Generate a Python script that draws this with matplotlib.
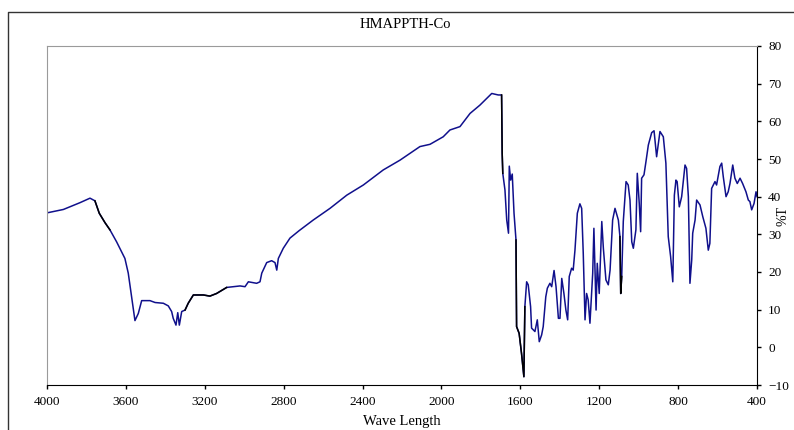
import numpy as np
import matplotlib
matplotlib.use('Agg')
from matplotlib import pyplot as plt
from matplotlib.lines import Line2D

# wave number (cm-1) and transmittance (%T)
wave = [4000, 3917, 3833, 3782, 3757, 3735, 3706, 3681, 3647, 3605,
        3588, 3571, 3554, 3537, 3520, 3478, 3452, 3410, 3385, 3368,
        3360, 3346, 3337, 3329, 3317, 3300, 3284, 3258, 3207, 3174,
        3140, 3089, 3021, 2996, 2979, 2937, 2920, 2911, 2886, 2861,
        2844, 2835, 2827, 2802, 2768, 2721, 2650, 2565, 2480, 2396,
        2295, 2210, 2109, 2058, 1991, 1957, 1906, 1855, 1805, 1745,
        1712, 1695, 1692, 1689, 1678, 1669, 1660, 1656, 1649, 1641,
        1632, 1622, 1619, 1606, 1594, 1582, 1577, 1568, 1560, 1548,
        1543, 1526, 1514, 1504, 1492, 1484, 1471, 1463, 1450, 1441,
        1429, 1419, 1407, 1399, 1390, 1379, 1369, 1360, 1352, 1340,
        1332, 1323, 1311, 1298, 1289, 1281, 1272, 1264, 1256, 1247,
        1233, 1227, 1216, 1210, 1200, 1187, 1179, 1166, 1154, 1145,
        1132, 1120, 1103, 1095, 1091, 1086, 1078, 1064, 1053, 1044,
        1035, 1027, 1014, 1007, 997, 990, 985, 973, 963, 951,
        934, 922, 909, 892, 875, 862, 850, 838, 827, 819,
        811, 805, 794, 782, 765, 757, 748, 740, 731, 726,
        714, 706, 689, 675, 659, 647, 639, 630, 613, 605,
        588, 579, 571, 557, 546, 537, 523, 512, 500, 486,
        473, 456, 444, 436, 427, 415, 405, 400]
trans = [35.7, 36.6, 38.4, 39.6, 38.9, 35.6, 33.1, 31.2, 28.0, 23.6,
         19.7, 13.4, 7.1, 9.0, 12.4, 12.4, 11.9, 11.7, 11.0, 9.5,
         7.7, 5.9, 9.2, 5.9, 9.5, 9.9, 11.7, 13.9, 13.9, 13.6,
         14.3, 15.9, 16.3, 16.1, 17.4, 17.0, 17.4, 19.7, 22.5, 23.0,
         22.5, 20.5, 23.6, 26.3, 29.0, 31.0, 33.8, 36.9, 40.4, 43.1,
         47.1, 49.7, 53.3, 53.9, 55.9, 57.7, 58.6, 62.1, 64.3, 67.4,
         67.0, 67.0, 51.5, 46.2, 41.8, 33.8, 30.3, 48.1, 44.4, 46.0,
         35.6, 28.5, 5.5, 3.7, -1.6, -7.8, 10.8, 17.4, 16.6, 10.8,
         5.1, 4.2, 7.3, 1.5, 3.3, 5.5, 13.4, 15.7, 17.0, 16.1,
         20.4, 16.1, 7.7, 7.7, 18.3, 14.3, 9.9, 7.3, 18.8, 21.0,
         20.5, 25.8, 35.6, 38.1, 36.9, 25.0, 7.3, 14.3, 12.6, 6.4,
         19.7, 31.6, 9.9, 22.3, 14.3, 33.4, 26.3, 17.9, 16.6, 20.5,
         33.8, 36.9, 33.8, 29.4, 14.3, 18.8, 33.4, 44.0, 43.1, 39.1,
         28.0, 26.3, 31.2, 46.2, 38.2, 30.7, 44.9, 45.8, 49.3, 53.7,
         57.0, 57.5, 50.6, 57.3, 55.9, 48.9, 29.4, 24.1, 17.4, 40.4,
         44.4, 44.0, 37.3, 40.0, 48.4, 47.5, 40.0, 17.0, 23.2, 30.3,
         33.8, 39.1, 37.8, 34.7, 31.6, 25.8, 27.6, 42.2, 44.0, 43.1,
         48.0, 48.9, 45.3, 40.0, 41.3, 43.5, 48.4, 44.9, 43.5, 44.9,
         43.5, 41.3, 39.1, 38.7, 36.5, 38.2, 41.3, 40.0]

# stretches the instrument drew in black instead of blue
black_ranges = [(3757, 3660), (3300, 3040), (1695, 1689), (1622, 1577), (1095, 1086)]

xticks = list(range(4000, 399, -400))
yticks = list(range(-10, 81, 10))

plt.rcParams['font.family'] = ['Liberation Serif', 'DejaVu Serif']

fig = plt.figure(figsize=(7.94, 4.30), dpi=100)
ax = fig.add_axes([47/794, 45/430, 710/794, 339/430])

wave = np.array(wave)
trans = np.array(trans)
ax.plot(wave, trans, color='#10108c', lw=1.1)
for hi, lo in black_ranges:
    m = (wave <= hi) & (wave >= lo)
    ax.plot(wave[m], trans[m], color='black', lw=1.1)

ax.set_xlim(4000, 400)
ax.set_ylim(-10, 80)
ax.set_xticks(xticks)
ax.set_yticks(yticks)
ax.yaxis.tick_right()
ax.yaxis.set_label_position('right')
ax.tick_params(direction='out', length=3, width=1, labelsize=9.5, pad=5)
ax.set_ylabel('%T', fontsize=10, rotation=90)
ax.yaxis.set_label_coords(1.027, 0.5)

for s in ('top', 'left'):
    ax.spines[s].set_color('#9a9a9a')
for s in ('right', 'bottom'):
    ax.spines[s].set_color('black')

fig.text(405/794, 1 - 24/430, 'HMAPPTH-Co', ha='center', va='center', fontsize=10.5)
fig.text(402/794, 1 - 422/430, 'Wave Length', ha='center', va='center', fontsize=10.5)

# outer chart frame
fx, fy = 8/794, 1 - 12/430
fig.add_artist(Line2D([fx, fx, 1], [0, fy, fy], color='#333333', lw=1.0,
                      transform=fig.transFigure))

fig.savefig('out.png', dpi=100)
